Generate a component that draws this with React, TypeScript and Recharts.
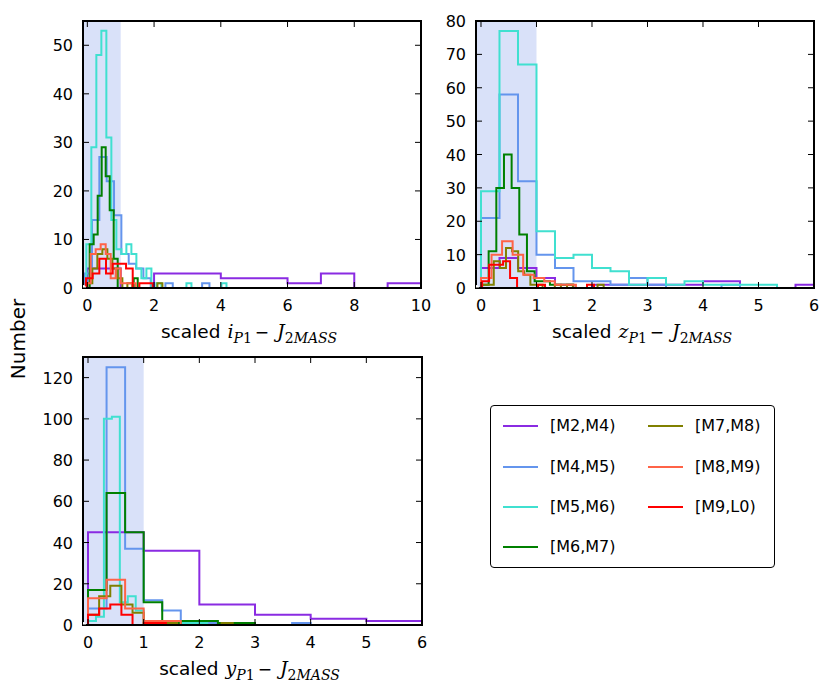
import { ComposedChart, Line, XAxis, YAxis, ReferenceArea } from 'recharts';

const groups = ['[M2,M4)', '[M4,M5)', '[M5,M6)', '[M6,M7)', '[M7,M8)', '[M8,M9)', '[M9,L0)'];
const colors = ['#8a2be2', '#6495ed', '#40e0d0', '#008000', '#808000', '#ff6347', '#ff0000'];

// scaled i_P1 - J_2MASS histograms (first bin edge, bin width, counts)
const iBinStart = [0, -0.08, -0.03, 0.07, 0, -0.05, -0.04];
const iBinWidth = [1, 0.22, 0.15, 0.12, 0.15, 0.15, 0.2];
const iM2M4 = [4, 0, 3, 3, 2, 2, 1, 3, 0, 1];
const iM4M5 = [3, 14, 27, 22, 15, 7, 5, 4, 2, 0, 0, 1, 0, 0, 0, 0, 1];
const iM5M6 = [9, 29, 48, 53, 31, 14, 8, 7, 9, 7, 4, 2, 4, 0, 1, 0, 0, 0, 0, 0, 1, 0, 0, 0, 0, 0, 0, 1];
const iM6M7 = [9, 11, 19, 29, 23, 16, 6, 0, 0, 0, 0, 2];
const iM7M8 = [1, 4, 7, 8, 6, 4, 2, 0, 1, 0, 0, 0, 0, 0, 1];
const iM8M9 = [1, 7, 8, 9, 7, 2, 4, 1, 1, 1];
const iM9L0 = [2, 3, 6, 3, 5, 5, 4, 0, 1, 1];

// scaled z_P1 - J_2MASS
const zBinStart = [0, 0, 0, 0, 0.01, 0, 0.02];
const zBinWidth = [1 / 3, 1 / 3, 1 / 3, 0.138, 0.11, 0.19, 0.126];
const zM2M4 = [6, 9, 6, 3, 1, 0, 1, 1, 1, 1, 1, 1, 2, 2, 0, 0, 0, 1];
const zM4M5 = [21, 58, 32, 10, 6, 2, 2, 1, 3, 1, 0, 0, 0, 1];
const zM5M6 = [29, 77, 67, 17, 9, 10, 6, 5, 1, 3, 1, 2, 1, 1, 1, 1];
const zM6M7 = [1, 11, 30, 40, 30, 16, 5, 2, 2, 1, 1, 1];
const zM7M8 = [1, 1, 8, 6, 12, 11, 5, 4, 1, 1, 0, 0, 1, 0, 1, 0, 0, 0, 0, 1];
const zM8M9 = [3, 10, 14, 10, 4, 3, 2, 1, 1];
const zM9L0 = [2, 7, 7, 8, 3, 0, 0, 0, 1, 0, 0, 0, 0, 0, 0, 1];

// scaled y_P1 - J_2MASS
const yBinStart = [0, 0, 0, 0, 0, 0, 0];
const yBinWidth = [1, 1 / 3, 1 / 7, 1 / 3, 0.2, 1 / 3, 0.2];
const yM2M4 = [45, 36, 10, 5, 3, 2];
const yM4M5 = [8, 125, 37, 12, 7, 1, 1, 0, 0, 0, 0, 1];
const yM5M6 = [2, 4, 100, 101, 11, 14, 7, 1, 1, 0, 0, 1, 1, 1, 1];
const yM6M7 = [17, 64, 45, 11, 1, 2, 2, 1, 1];
const yM7M8 = [5, 14, 19, 10, 6, 0, 0, 1, 0, 0, 0, 0, 1];
const yM8M9 = [13, 22, 8, 2, 2];
const yM9L0 = [5, 8, 10, 5, 0, 1, 1];

const iTicksX = [0, 2, 4, 6, 8, 10];
const iTicksY = [0, 10, 20, 30, 40, 50];
const zTicksX = [0, 1, 2, 3, 4, 5, 6];
const zTicksY = [0, 10, 20, 30, 40, 50, 60, 70, 80];
const yTicksX = [0, 1, 2, 3, 4, 5, 6];
const yTicksY = [0, 20, 40, 60, 80, 100, 120];

const FONT = 'DejaVu Sans';
const MATH = 'DejaVu Serif';

function stepPoints(start: number, width: number, counts: number[]) {
  const pts = [{ x: start, y: 0 }];
  counts.forEach((c, k) => pts.push({ x: start + k * width, y: c }));
  pts.push({ x: start + counts.length * width, y: 0 });
  return pts;
}

const tickText = { fontFamily: FONT, fontSize: 16, fill: '#000' };

function BottomTick(p: any) {
  return (
    <g>
      <line x1={p.x} y1={p.y} x2={p.x} y2={p.y - 6} stroke="#000" />
      <text x={p.x} y={p.y + 23} textAnchor="middle" {...tickText}>{p.payload.value}</text>
    </g>
  );
}

function TopTick(p: any) {
  return <line x1={p.x} y1={p.y} x2={p.x} y2={p.y + 6} stroke="#000" />;
}

function LeftTick(p: any) {
  return (
    <g>
      <line x1={p.x} y1={p.y} x2={p.x + 6} y2={p.y} stroke="#000" />
      <text x={p.x - 10} y={p.y + 6} textAnchor="end" {...tickText}>{p.payload.value}</text>
    </g>
  );
}

function RightTick(p: any) {
  return <line x1={p.x} y1={p.y} x2={p.x - 6} y2={p.y} stroke="#000" />;
}

function AxisLabel({ cx, by, band }: { cx: number; by: number; band: string }) {
  return (
    <text x={cx} y={by} textAnchor="middle" fill="#000">
      <tspan fontFamily={FONT} fontSize={18.5}>scaled</tspan>
      <tspan dx={7} fontFamily={MATH} fontStyle="italic" fontSize={19}>{band}</tspan>
      <tspan dy={5} fontFamily={MATH} fontStyle="italic" fontSize={14}>P</tspan>
      <tspan fontFamily={MATH} fontSize={14}>1</tspan>
      <tspan dy={-5} dx={3} fontFamily={FONT} fontSize={17}>−</tspan>
      <tspan dx={8} fontFamily={MATH} fontStyle="italic" fontSize={19}>J</tspan>
      <tspan dy={5} fontFamily={MATH} fontSize={14}>2</tspan>
      <tspan fontFamily={MATH} fontStyle="italic" fontSize={14}>MASS</tspan>
    </text>
  );
}

const ML = 50;
const MR = 12;
const MT = 10;
const XH = 56;

interface PanelProps {
  left: number;
  top: number;
  plotW: number;
  plotH: number;
  xMin: number;
  xMax: number;
  xTicks: number[];
  yMax: number;
  yTicks: number[];
  starts: number[];
  widths: number[];
  counts: number[][];
  band: string;
}

function Panel({ left, top, plotW, plotH, xMin, xMax, xTicks, yMax, yTicks, starts, widths, counts, band }: PanelProps) {
  const frame = { stroke: '#000', strokeWidth: 2 };
  return (
    <div style={{ position: 'absolute', left: left - ML, top: top - MT }}>
      <ComposedChart
        width={ML + plotW + MR}
        height={MT + plotH + XH}
        margin={{ top: MT - 1, right: MR - 1, bottom: 0, left: 0 }}
      >
        <ReferenceArea x1={xMin} x2={1} y1={0} y2={yMax} fill="#4169e1" fillOpacity={0.2} stroke="none" />
        <XAxis
          dataKey="x"
          type="number"
          domain={[xMin, xMax]}
          allowDataOverflow
          ticks={xTicks}
          interval={0}
          height={XH}
          tickSize={0}
          tickMargin={0}
          tickLine={false}
          axisLine={frame}
          tick={BottomTick}
          label={{
            content: (lp: any) => {
              const vb = lp.viewBox || {};
              return <AxisLabel cx={(vb.x ?? ML) + (vb.width ?? plotW) / 2 - 3} by={(vb.y ?? MT + plotH) + 49.5} band={band} />;
            },
          }}
        />
        <XAxis
          xAxisId="top"
          dataKey="x"
          orientation="top"
          type="number"
          domain={[xMin, xMax]}
          allowDataOverflow
          ticks={xTicks}
          interval={0}
          height={1}
          tickSize={0}
          tickMargin={0}
          tickLine={false}
          axisLine={frame}
          tick={TopTick}
        />
        <YAxis
          type="number"
          domain={[0, yMax]}
          allowDataOverflow
          ticks={yTicks}
          interval={0}
          width={ML}
          tickSize={0}
          tickMargin={0}
          tickLine={false}
          axisLine={frame}
          tick={LeftTick}
        />
        <YAxis
          yAxisId="right"
          orientation="right"
          type="number"
          domain={[0, yMax]}
          allowDataOverflow
          ticks={yTicks}
          interval={0}
          width={1}
          tickSize={0}
          tickMargin={0}
          tickLine={false}
          axisLine={frame}
          tick={RightTick}
        />
        {counts.map((c, i) => (
          <Line
            key={groups[i]}
            data={stepPoints(starts[i], widths[i], c)}
            dataKey="y"
            type="stepAfter"
            stroke={colors[i]}
            strokeWidth={2}
            dot={false}
            activeDot={false}
            isAnimationActive={false}
          />
        ))}
        <Line
          xAxisId="top"
          yAxisId="right"
          data={[{ x: xMin, y: 0 }]}
          dataKey="y"
          stroke="none"
          dot={false}
          activeDot={false}
          legendType="none"
          isAnimationActive={false}
        />
        <ReferenceArea x1={xMin} x2={xMax} y1={0} y2={yMax} fill="none" stroke="#000" strokeWidth={2} />
      </ComposedChart>
    </div>
  );
}

function LegendBox() {
  const rows = [20, 60.7, 101, 141];
  return (
    <div
      style={{
        position: 'absolute',
        left: 490,
        top: 405,
        width: 283,
        height: 161,
        border: '1px solid #000',
        borderRadius: 4,
        background: '#fff',
      }}
    >
      {groups.map((g, i) => {
        const col = i < 4 ? 0 : 1;
        const row = i < 4 ? i : i - 4;
        const lx = col === 0 ? 12 : 157;
        const cy = rows[row];
        return (
          <div key={g}>
            <svg style={{ position: 'absolute', left: lx, top: cy - 2 }} width={35} height={4}>
              <line x1={0} y1={2} x2={35} y2={2} stroke={colors[i]} strokeWidth={2} />
            </svg>
            <span
              style={{
                position: 'absolute',
                left: lx + 47,
                top: cy - 10,
                fontFamily: FONT,
                fontSize: 16,
                lineHeight: '20px',
                whiteSpace: 'nowrap',
              }}
            >
              {g}
            </span>
          </div>
        );
      })}
    </div>
  );
}

export default function App() {
  return (
    <div style={{ position: 'absolute', left: 0, top: 0, width: 830, height: 692, background: '#fff' }}>
      <Panel
        left={83}
        top={21}
        plotW={338}
        plotH={267}
        xMin={-0.13}
        xMax={10}
        xTicks={iTicksX}
        yMax={55}
        yTicks={iTicksY}
        starts={iBinStart}
        widths={iBinWidth}
        counts={[iM2M4, iM4M5, iM5M6, iM6M7, iM7M8, iM8M9, iM9L0]}
        band="i"
      />
      <Panel
        left={476}
        top={21}
        plotW={338}
        plotH={267}
        xMin={-0.09}
        xMax={6}
        xTicks={zTicksX}
        yMax={80}
        yTicks={zTicksY}
        starts={zBinStart}
        widths={zBinWidth}
        counts={[zM2M4, zM4M5, zM5M6, zM6M7, zM7M8, zM8M9, zM9L0]}
        band="z"
      />
      <Panel
        left={83}
        top={357}
        plotW={339}
        plotH={268}
        xMin={-0.09}
        xMax={6}
        xTicks={yTicksX}
        yMax={130}
        yTicks={yTicksY}
        starts={yBinStart}
        widths={yBinWidth}
        counts={[yM2M4, yM4M5, yM5M6, yM6M7, yM7M8, yM8M9, yM9L0]}
        band="y"
      />
      <div
        style={{
          position: 'absolute',
          left: 18,
          top: 339,
          transform: 'translate(-50%, -50%) rotate(-90deg)',
          fontFamily: FONT,
          fontSize: 20,
          whiteSpace: 'nowrap',
        }}
      >
        Number
      </div>
      <LegendBox />
    </div>
  );
}
